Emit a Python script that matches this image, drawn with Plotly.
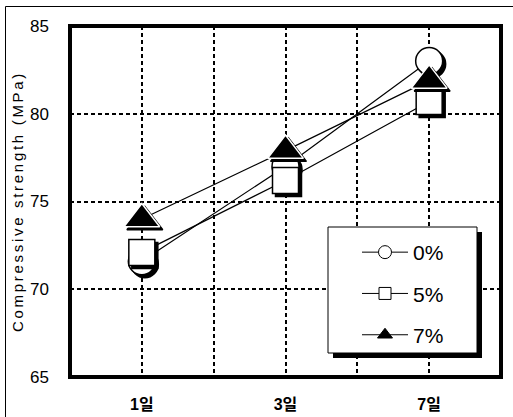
import plotly.graph_objects as go

# ---- data ----
x_labels = ["1일", "3일", "7일"]
x_pos = [1, 3, 5]
series_names = ["0%", "5%", "7%"]
s0 = [71.6, 77.0, 83.0]
s5 = [72.1, 76.2, 80.7]
s7 = [74.0, 77.9, 81.9]
y_ticks = [65, 70, 75, 80, 85]

W, H = 513, 417
ML, MR, MT, MB = 70, 12, 26, 40
PW, PH = W - ML - MR, H - MT - MB
XR = [0, 6]
YR = [65, 85]

# shadow offset (px -> data units)
SH = 3
dx = SH * (XR[1] - XR[0]) / PW
dy = -SH * (YR[1] - YR[0]) / PH

FONT = "Liberation Sans, Arial, Noto Sans CJK KR, sans-serif"

def px2x(px):
    return (px - ML) / PW

def px2y(py):
    return (MT + PH - py) / PH

styles = [
    dict(symbol="circle", size=27, lsize=13, color="white"),
    dict(symbol="square", size=26, lsize=12, color="white"),
    dict(symbol="triangle-up", size=31, lsize=13, color="black"),
]

fig = go.Figure()
for name, ys, st in zip(series_names, [s0, s5, s7], styles):
    edge = "black" if st["color"] == "white" else "white"
    # drop shadow
    fig.add_trace(go.Scatter(
        x=[v + dx for v in x_pos], y=[v + dy for v in ys], mode="markers",
        marker=dict(symbol=st["symbol"], size=st["size"], color="black",
                    line=dict(color="black", width=1.5)),
        showlegend=False, hoverinfo="skip"))
    fig.add_trace(go.Scatter(
        x=x_pos, y=ys, mode="lines+markers", name=name, legendgroup=name,
        showlegend=False,
        line=dict(color="black", width=1.2),
        marker=dict(symbol=st["symbol"], size=st["size"], color=st["color"],
                    line=dict(color=edge, width=1.5))))
    # legend entry
    fig.add_trace(go.Scatter(
        x=[None], y=[None], mode="lines+markers", name=name, legendgroup=name,
        line=dict(color="black", width=1),
        marker=dict(symbol=st["symbol"], size=st["lsize"], color=st["color"],
                    line=dict(color="black", width=1))))

grid = dict(gridcolor="black", gridwidth=2, griddash="4px,3px")

fig.update_layout(
    width=W, height=H,
    margin=dict(l=ML, r=MR, t=MT, b=MB, pad=0, autoexpand=False),
    paper_bgcolor="white", plot_bgcolor="white",
    font=dict(family=FONT, color="black"),
    showlegend=True,
    legend=dict(
        x=px2x(357), y=px2y(232), xanchor="left", yanchor="top",
        bgcolor="rgba(0,0,0,0)", borderwidth=0,
        font=dict(size=21, family=FONT),
        itemsizing="trace", itemwidth=46,
        traceorder="grouped", tracegroupgap=11,
    ),
    xaxis=dict(range=XR, tickmode="array", tickvals=x_pos, ticktext=x_labels,
               showgrid=True, zeroline=False, showline=False, ticks="",
               automargin=False,
               tickfont=dict(size=16, family=FONT, weight="bold"),
               ticklabelstandoff=16,
               minor=dict(tickmode="linear", tick0=0, dtick=1, showgrid=True, **grid),
               **grid),
    yaxis=dict(range=YR, tickmode="array", tickvals=y_ticks,
               showgrid=True, zeroline=False, showline=False, ticks="",
               automargin=False,
               tickfont=dict(size=17, family=FONT),
               ticklabelstandoff=20,
               title=dict(text='<span style="letter-spacing:2.7px">Compressive strength (MPa)</span>',
                          font=dict(size=15, family=FONT), standoff=2),
               **grid),
    shapes=[
        # plot frame
        dict(type="rect", xref="paper", yref="paper", x0=0, x1=1, y0=0, y1=1,
             line=dict(color="black", width=4), layer="above"),
        # outer image frame (left and top)
        dict(type="path", xref="paper", yref="paper",
             path=f"M {px2x(5.5)} {px2y(H + 5)} L {px2x(5.5)} {px2y(6.5)} L {px2x(W + 5)} {px2y(6.5)}",
             line=dict(color="black", width=1)),
        # legend shadow
        dict(type="rect", xref="paper", yref="paper",
             x0=px2x(333), x1=px2x(482), y0=px2y(358), y1=px2y(232),
             fillcolor="black", line=dict(width=0), layer="above"),
        # legend box
        dict(type="rect", xref="paper", yref="paper",
             x0=px2x(328), x1=px2x(477), y0=px2y(353), y1=px2y(227),
             fillcolor="white", line=dict(color="black", width=1), layer="above"),
    ],
)

fig.write_html("out.html", config={"displayModeBar": False},
               post_script="document.body.style.margin='0';")
